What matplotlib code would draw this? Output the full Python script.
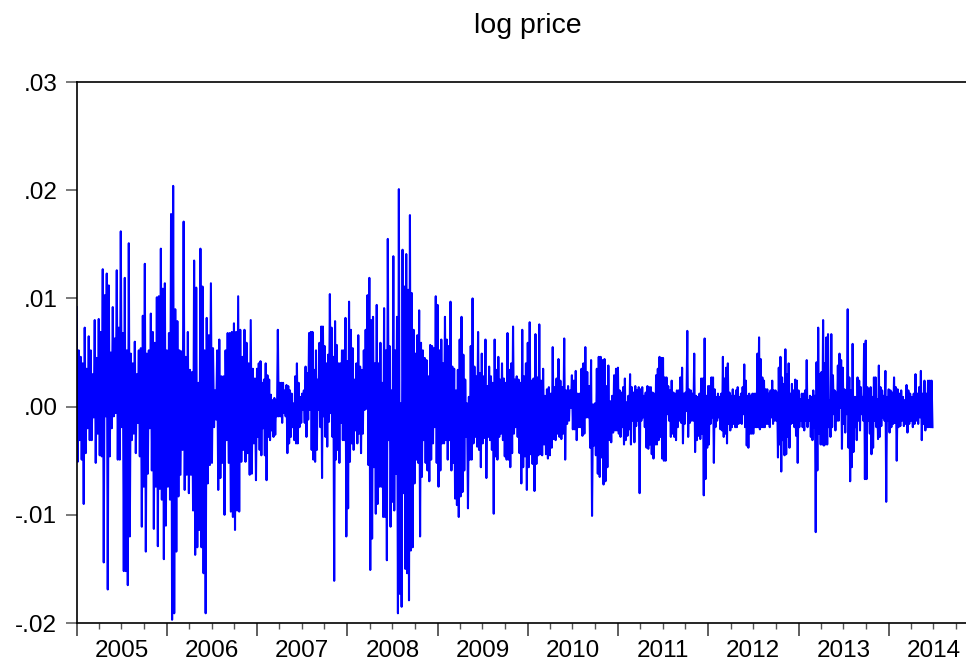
import numpy as np
import pandas as pd
import matplotlib
matplotlib.use("Agg")
import matplotlib.pyplot as plt
import matplotlib.dates as mdates
import matplotlib.transforms as mtransforms
from matplotlib.ticker import FuncFormatter, NullFormatter

# Daily log returns, in units of 0.0001, one list per calendar year
v2005 = [92, -51, 52, -31, 46, -49, 40, -90, 73, -43, 35, -20, 65, -31, 52, -31, 30, -10, 80, -52,
         45, -25, 81, -45, 69, -46, 127, -144, 103, -9, 123, -169, 112, -46, 50, -20, 92, -9, 63, -6,
         126, -49, 73, -49, 162, -19, 68, -152, 119, -152, 52, -165, 151, -120, 49, -31, 40, -25, 60, -43,
         30, -15, 52, -46, 54, -111, 84, -74, 132, -134, 49, -62, 52, -20, 86, -59, 69, -113, 59, -74,
         101, -129, 102, -76, 146, -86, 109, -141, 114, -110]
v2006 = [52, -74, 68, -86, 178, -197, 204, -191, 90, -134, 79, -83, 52, -63, 51, -40, 171, -77, 46, -63,
         69, -80, 34, -63, 32, -96, 135, -137, 110, -130, 22, -114, 146, -130, 111, -154, 52, -191, 82, -71,
         66, -54, 114, -52, 54, -19, 15, -12, 52, -77, 62, -66, 28, -52, 28, -100, 52, -31, 68, -52,
         68, -97, 69, -102, 77, -114, 69, -96, 102, -97, 71, -51, 46, -40, 71, -51, 59, -43, 40, -63,
         80, -62, 35, -34, 26, -68]
v2007 = [35, -28, 40, -40, 42, -45, 22, -20, 25, -45, 40, -68, 29, -28, 25, -31, 11, -22, 6, -28,
         8, -26, 6, -9, 71, -9, 22, -9, 22, -15, 22, -6, 15, -9, 20, -43, 19, -34, 15, -28,
         12, -19, 3, -31, 28, -34, 40, -34, 22, -19, 9, -15, 12, -3, 15, -15, 37, -28, 31, -12,
         68, -3, 69, -40, 69, -49, 34, -51, 52, -40, 25, -3, 59, -19, 74, -66, 74, -9, 56, -28,
         40, -37, 48, -14, 104, -6, 73, -28, 46, -161, 79, -49, 57, -40, 40, -52, 40, -15, 52, -31,
         52, -31, 82, -120]
v2008 = [42, -94, 97, -51, 71, -34, 54, -40, 25, -22, 40, -34, 66, -25, 37, -43, 34, -25, 52, -3,
         71, -2, 103, -54, 119, -151, 80, -122, 83, -56, 40, -99, 94, -90, 40, -74, 59, -74, 22, -102,
         91, -102, 52, -142, 155, -31, 56, -111, 15, -88, 139, -96, 52, -62, 83, -191, 201, -173, 3, -185,
         145, -80, 111, -150, 141, -154, 108, -179, 177, -133, 105, -130, 71, -71, 49, -49, 66, -52, 89, -120,
         59, -65, 52, -31, 45, -52, 43, -59, 28, -69, 57, -49, 56, -34, 54, -19, 102, -52]
v2009 = [94, -74, 52, -59, 62, -34, 40, -34, 83, -31, 62, -49, 56, -31, 97, -59, 37, -52, 35, -85,
         15, -91, 34, -102, 62, -83, 83, -79, 48, -59, 25, -28, 3, -94, 9, -49, 56, -49, 100, -34,
         37, -28, 28, -37, 69, -40, 31, -56, 49, -34, 28, -29, 62, -66, 19, -28, 37, -31, 28, -40,
         22, -99, 62, -46, 34, -49, 46, -28, 25, -25, 40, -31, 26, -46, 22, -49, 68, -49, 34, -56,
         40, -43, 74, -25, 25, -19, 28, -28, 25, -43, 22, -71, 71, -56, 28, -46, 40, -77]
v2010 = [59, -56, 78, -44, 24, -53, 26, -78, 67, -53, 27, -45, 76, -44, 24, -45, 35, -35, 10, -44,
         16, -48, 18, -45, 12, -38, 55, -30, 18, -31, 26, -25, 44, -28, 24, -30, 18, -25, 63, -49,
         15, -16, 19, -13, 15, -1, 29, -21, 24, -21, 33, -31, 12, -19, 12, -19, 35, -27, 40, -25,
         55, -10, 32, -10, 19, -38, 43, -101, 2, -36, 3, -45, 35, -62, 46, -65, 46, -47, 43, -72,
         44, -69, 19, -56, 38, -31, 5, -33, 10, -24, 29, -22, 35, -22]
v2011 = [36, -25, 15, -28, 13, -19, 18, -35, 26, -31, 4, -27, 10, -21, 30, -35, 18, -13, 13, -33,
         19, -18, 15, -13, 18, -80, 16, -13, 18, -10, 10, -19, 13, -38, 19, -39, 18, -35, 18, -44,
         13, -48, 12, -35, 29, -35, 35, -31, 46, -28, 45, -48, 45, -50, 27, -50, 27, -7, 19, -13,
         15, -28, 24, -25, 13, -28, 12, -31, 15, -19, 15, -13, 27, -15, 36, -34, 12, -16, 13, -4,
         70, -28, 16, -15, 15, -13, 12, -13, 49, -42, 10, -31, 9, -27, 12, -30, 26, -25, 26, -82,
         63, -67, 10, -38]
v2012 = [19, -35, 19, -16, 27, -10, 27, -52, 16, -19, 9, -13, 12, -10, 9, -21, 12, -22, 46, -28,
         26, -25, 36, -34, 40, -16, 13, -22, 10, -19, 16, -16, 10, -19, 15, -19, 18, -16, 9, -15,
         12, -16, 18, -7, 39, -19, 24, -36, 10, -38, 12, -25, 10, -25, 12, -25, 12, -19, 12, -19,
         49, -19, 64, -21, 44, -19, 27, -19, 24, -19, 16, -16, 16, -16, 12, -19, 15, -10, 24, -16,
         15, -13, 15, -13, 13, -47, 36, -35, 46, -60, 27, -31, 21, -45, 53, -44, 30, -28, 40, -38,
         12, -16, 21, -15, 15, -19, 25, -27, 24, -52]
v2013 = [15, -19, 7, -13, 12, -19, 12, -22, 15, -13, 43, -19, 6, -13, 10, -28, 9, -31, 15, -19,
         10, -116, 41, -59, 73, -25, 30, -35, 32, -35, 80, -36, 40, -35, 64, -35, 67, -19, 6, -28,
         67, -19, 29, -7, 15, -22, 13, -13, 38, -13, 49, -1, 43, -39, 36, -16, 16, -24, 15, -7,
         90, -38, 27, -69, 15, -56, 58, -42, 9, -19, 9, -31, 27, -13, 24, -22, 18, -7, 9, -13,
         58, -67, 61, -67, 18, -13, 16, -25, 18, -44, 9, -38, 27, -13, 27, -19, 7, -30, 38, -28,
         18, -18, 15, -10, 10, -13, 33, -88, 9, -13]
v2014 = [16, -24, 15, -19, 13, -16, 27, -15, 18, -50, 16, -19, 12, -18, 15, -13, 9, -18, 6, -16,
         20, -24, 15, -16, 12, -13, 9, -19, 12, -16, 30, -13, 12, -16, 18, -10, 33, -31, 12, -16,
         24, -22, 12, -19, 24, -19, 24, -19, 24, -19]

year_lists = {2005: v2005, 2006: v2006, 2007: v2007, 2008: v2008, 2009: v2009,
              2010: v2010, 2011: v2011, 2012: v2012, 2013: v2013, 2014: v2014}
sample_end = "2014-07-01"
unit = 1e-4

# Spread each year's observations evenly over that year
all_dates = []
all_vals = []
for yr, vals in year_lists.items():
    start = pd.Timestamp(f"{yr}-01-01")
    end = pd.Timestamp(f"{yr + 1}-01-01") if yr < 2014 else pd.Timestamp(sample_end)
    d = pd.date_range(start, end, periods=len(vals) + 1)[:-1]
    all_dates.extend(d)
    all_vals.extend(vals)
series = pd.Series(np.array(all_vals) * unit, index=pd.DatetimeIndex(all_dates))

plt.rcParams['font.family'] = ['Liberation Sans', 'DejaVu Sans']

fig = plt.figure(figsize=(9.66, 6.63), dpi=100)
ax = fig.add_axes([0.0794, 0.0603, 0.9206, 0.816])

ax.plot(series.index, series.values, color='#0000FF', linewidth=1.5)

ax.set_ylim(-0.02, 0.03)
ax.set_xlim(pd.Timestamp("2005-01-01"), pd.Timestamp("2014-11-10"))

# y axis: EViews style labels without the leading zero
ax.set_yticks([-0.02, -0.01, 0.0, 0.01, 0.02, 0.03])
ax.yaxis.set_major_formatter(FuncFormatter(lambda v, p: f"{v:.2f}".replace("0.", ".")))
ax.tick_params(axis='y', direction='out', length=8, width=1.1, color='#555555',
               labelsize=17.5, pad=6)

# x axis: long ticks at year starts, short ticks at quarters, labels centred in each year
ax.xaxis.set_major_locator(mdates.YearLocator())
ax.xaxis.set_major_formatter(NullFormatter())
ax.xaxis.set_minor_locator(mdates.MonthLocator(bymonth=[4, 7, 10]))
ax.tick_params(axis='x', which='major', direction='out', length=9, width=1.1, color='#333333')
ax.tick_params(axis='x', which='minor', direction='out', length=4.5, width=1.0, color='#555555')

trans = mtransforms.blended_transform_factory(ax.transData, ax.transAxes)
for yr in year_lists:
    ax.text(mdates.date2num(pd.Timestamp(f"{yr}-07-02")), -0.051, str(yr), transform=trans,
            ha='center', va='center', fontsize=17.5)

for side in ['left', 'bottom', 'top']:
    ax.spines[side].set_linewidth(1.2)
    ax.spines[side].set_color('black')
ax.spines['right'].set_visible(False)

fig.text(528 / 966, 1 - 33 / 663, 'log price', ha='center', va='baseline', fontsize=20.5)

plt.savefig('out.png', dpi=100)
plt.close()
